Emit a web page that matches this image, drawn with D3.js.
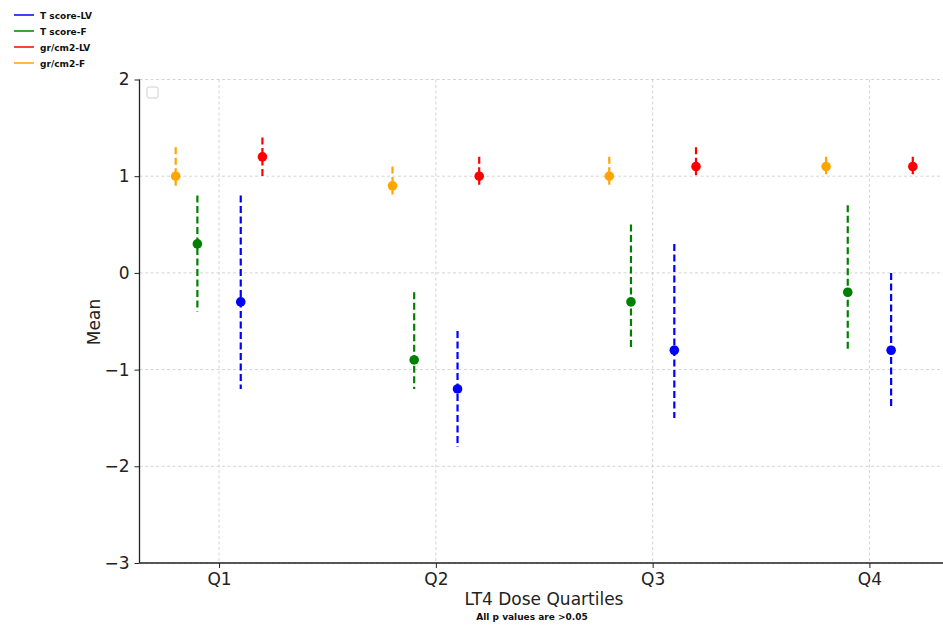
<!DOCTYPE html>
<html>
  <head>
    <meta charset="UTF-8" />
    <script src="https://d3js.org/d3.v7.min.js"></script>
    <style>
      body { margin: 0; background: #fff; }
      svg { display: block; font-family: "DejaVu Sans", sans-serif; }
    </style>
  </head>
  <body>
    <div id="my_dataviz"></div>

    <script>
      var width = 943, height = 627;

      // data
      const quartiles = ["Q1", "Q2", "Q3", "Q4"];
      const yTicks = [-3, -2, -1, 0, 1, 2];

      const tScoreLV = [-0.3, -1.2, -0.8, -0.8];
      const tScoreLVLow = [-1.2, -1.8, -1.5, -1.4];
      const tScoreLVHigh = [0.8, -0.6, 0.3, 0.0];

      const tScoreF = [0.3, -0.9, -0.3, -0.2];
      const tScoreFLow = [-0.4, -1.2, -0.8, -0.8];
      const tScoreFHigh = [0.8, -0.2, 0.5, 0.7];

      const grLV = [1.2, 1.0, 1.1, 1.1];
      const grLVLow = [1.0, 0.9, 1.0, 1.0];
      const grLVHigh = [1.4, 1.2, 1.3, 1.2];

      const grF = [1.0, 0.9, 1.0, 1.1];
      const grFLow = [0.9, 0.8, 0.9, 1.0];
      const grFHigh = [1.3, 1.1, 1.2, 1.2];

      // series in legend order, with their offset inside each quartile
      var series = [
        { name: "T score-LV", color: "#0000ff", offset: 0.1, mean: tScoreLV, lo: tScoreLVLow, hi: tScoreLVHigh },
        { name: "T score-F", color: "#008000", offset: -0.1, mean: tScoreF, lo: tScoreFLow, hi: tScoreFHigh },
        { name: "gr/cm2-LV", color: "#ff0000", offset: 0.2, mean: grLV, lo: grLVLow, hi: grLVHigh },
        { name: "gr/cm2-F", color: "#ffa500", offset: -0.2, mean: grF, lo: grFLow, hi: grFHigh }
      ];

      var svg = d3
        .select("#my_dataviz")
        .append("svg")
        .attr("width", width)
        .attr("height", height);

      var plotLeft = 139.5, plotBottom = 563, plotTop = 79.5;

      var xScale = d3.scaleLinear().domain([-0.367, 3.367]).range([plotLeft, 949]);
      var yScale = d3.scaleLinear().domain([-3, 2]).range([plotBottom, plotTop]);

      // grid
      var grid = svg.append("g");
      grid.selectAll(".hgrid")
        .data(yTicks)
        .join("line")
        .attr("x1", plotLeft).attr("x2", width)
        .attr("y1", d => yScale(d)).attr("y2", d => yScale(d))
        .attr("stroke", "#cfcfcf").attr("stroke-width", 0.9)
        .attr("stroke-dasharray", "3,2.5");
      grid.selectAll(".vgrid")
        .data(quartiles)
        .join("line")
        .attr("x1", (d, i) => xScale(i)).attr("x2", (d, i) => xScale(i))
        .attr("y1", plotTop).attr("y2", plotBottom)
        .attr("stroke", "#cfcfcf").attr("stroke-width", 0.9)
        .attr("stroke-dasharray", "3,2.5");

      // axes
      var xAxis = svg.append("g")
        .attr("transform", "translate(0," + plotBottom + ")")
        .call(d3.axisBottom(xScale)
          .tickValues(d3.range(quartiles.length))
          .tickFormat(i => quartiles[i])
          .tickSize(5).tickPadding(5));
      var yAxis = svg.append("g")
        .attr("transform", "translate(" + plotLeft + ",0)")
        .call(d3.axisLeft(yScale)
          .tickValues(yTicks)
          .tickFormat(d => (d < 0 ? "\u2212" + Math.abs(d) : d))
          .tickSize(5).tickPadding(5));

      xAxis.select(".domain").attr("d", "M" + plotLeft + ",0H" + width).attr("stroke", "#222").attr("stroke-width", 1.3);
      yAxis.select(".domain").attr("d", "M0," + plotBottom + "V" + plotTop).attr("stroke", "#222").attr("stroke-width", 1.3);
      svg.selectAll(".tick line").attr("stroke", "#222").attr("stroke-width", 1);
      svg.selectAll(".tick text")
        .attr("font-size", 17)
        .attr("fill", "#222")
        .attr("font-family", "DejaVu Sans, sans-serif");

      // error bars + points
      var marks = svg.append("g");
      series.forEach(function (s) {
        var g = marks.append("g");
        g.selectAll("line")
          .data(quartiles)
          .join("line")
          .attr("x1", (d, i) => xScale(i + s.offset))
          .attr("x2", (d, i) => xScale(i + s.offset))
          .attr("y1", (d, i) => yScale(s.hi[i]))
          .attr("y2", (d, i) => yScale(s.lo[i]))
          .attr("stroke", s.color)
          .attr("stroke-width", 2.2)
          .attr("stroke-dasharray", "7,3.5");
        g.selectAll("circle")
          .data(quartiles)
          .join("circle")
          .attr("cx", (d, i) => xScale(i + s.offset))
          .attr("cy", (d, i) => yScale(s.mean[i]))
          .attr("r", 4.8)
          .attr("fill", s.color);
      });

      // empty legend box in the axes corner
      svg.append("rect")
        .attr("x", 147).attr("y", 87)
        .attr("width", 11).attr("height", 11)
        .attr("rx", 2)
        .attr("fill", "#fff")
        .attr("stroke", "#d0d0d0")
        .attr("stroke-width", 1);

      // legend at top left
      var legend = svg.append("g").attr("transform", "translate(14,15)");
      var item = legend.selectAll("g")
        .data(series)
        .join("g")
        .attr("transform", (d, i) => "translate(0," + i * 16 + ")");
      item.append("line")
        .attr("x1", 0).attr("x2", 20)
        .attr("stroke", d => d.color)
        .attr("stroke-width", 1.5);
      item.append("text")
        .attr("x", 26).attr("y", 3.5)
        .attr("font-size", 9)
        .attr("font-weight", "bold")
        .attr("fill", "#111")
        .text(d => d.name);

      // labels
      svg.append("text")
        .attr("x", 544).attr("y", 605)
        .attr("text-anchor", "middle")
        .attr("font-size", 17)
        .attr("fill", "#222")
        .text("LT4 Dose Quartiles");
      svg.append("text")
        .attr("x", 532).attr("y", 620)
        .attr("text-anchor", "middle")
        .attr("font-size", 9)
        .attr("font-weight", "bold")
        .attr("fill", "#111")
        .text("All p values are >0.05");
      svg.append("text")
        .attr("transform", "translate(100,322) rotate(-90)")
        .attr("text-anchor", "middle")
        .attr("font-size", 17)
        .attr("fill", "#222")
        .text("Mean");
    </script>
  </body>
</html>
